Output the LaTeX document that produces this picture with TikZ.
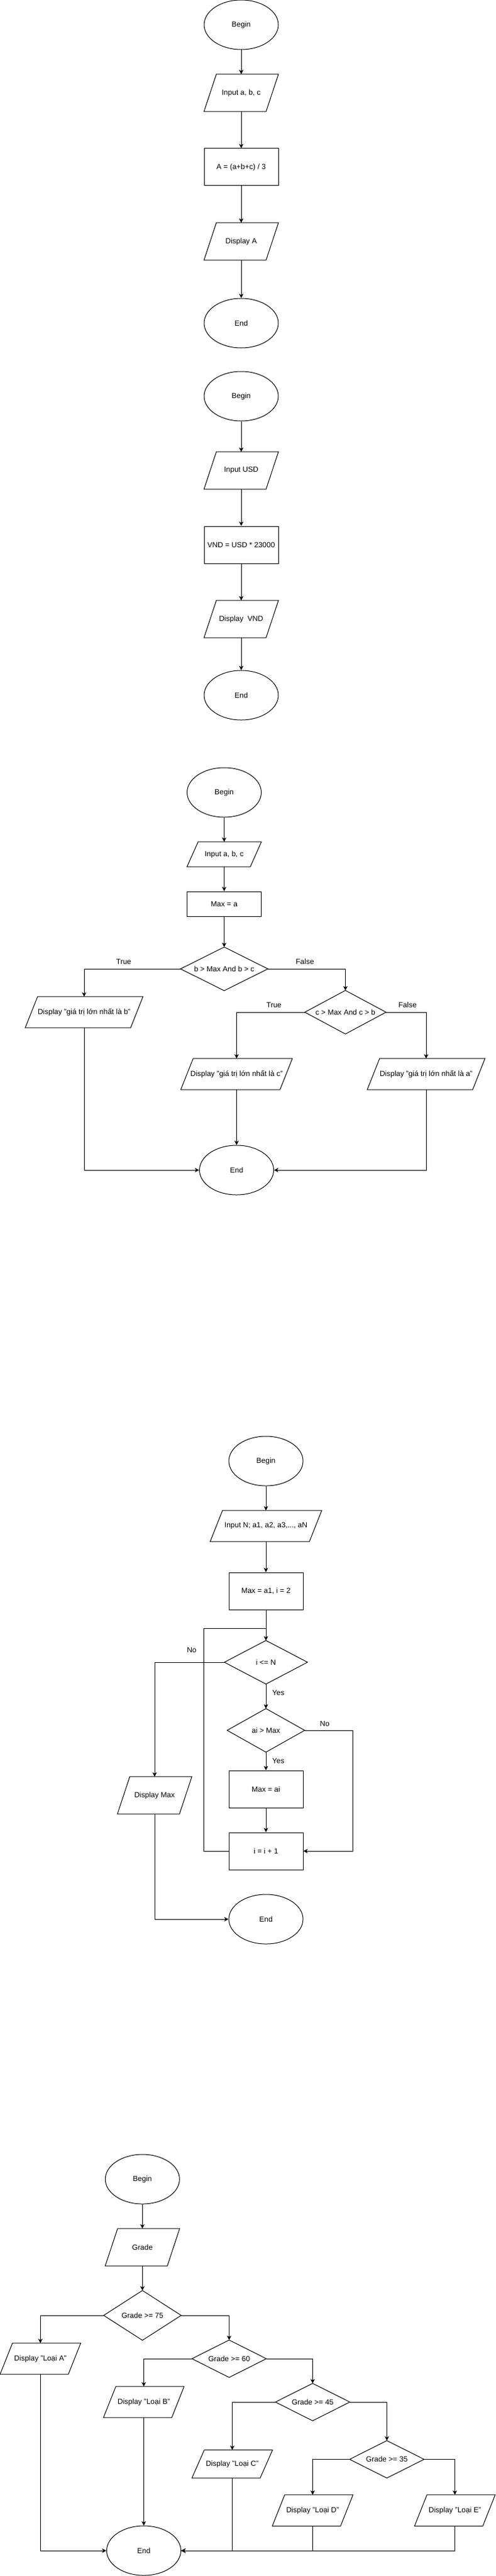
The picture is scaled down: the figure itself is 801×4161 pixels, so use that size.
\documentclass[tikz,border=0pt]{standalone}
\usepackage{fontspec}
\setmainfont{Liberation Sans}
\usetikzlibrary{arrows.meta,shapes.geometric}
\tikzset{
  base/.style={rectangle, inner sep=0pt, align=center, font=\fontsize{12}{14}\selectfont, text=black},
  term/.style={base, ellipse, draw, line width=1pt, minimum width=120pt, minimum height=80pt},
  proc/.style={base, draw, line width=1pt},
  con/.style={line width=1pt, line join=miter},
  arr/.style={line width=1pt, -{Stealth[length=7pt,width=7pt,inset=2pt]}},
  lbl/.style={font=\fontsize{12}{14}\selectfont, inner sep=0pt, text=black},
}
% name, x, y, width, height, skew, text
\newcommand\IOBox[7]{%
  \node[base, minimum width=#4pt, minimum height=#5pt] (#1) at (#2,#3) {#7};
  \draw[con] ([xshift=#6pt]#1.north west) -- (#1.north east) -- ([xshift=-#6pt]#1.south east) -- (#1.south west) -- cycle;}
% name, x, y, width, height, text
\newcommand\DecBox[6]{%
  \node[base, minimum width=#4pt, minimum height=#5pt] (#1) at (#2,#3) {#6};
  \draw[con] (#1.north) -- (#1.east) -- (#1.south) -- (#1.west) -- cycle;}
\begin{document}
\begin{tikzpicture}[x=1pt,y=-1pt]
\path[use as bounding box, fill=white] (0,0) rectangle (801,4161);

% ---------- Chart 1 ----------
\node[term] (b1) at (390,40) {Begin};
\IOBox{i1}{390}{150}{120}{60}{20}{Input a, b, c}
\node[proc, minimum width=120pt, minimum height=60pt] (p1) at (390,270) {A = (a+b+c) / 3};
\IOBox{o1}{390}{390}{120}{60}{20}{Display A}
\node[term] (e1) at (390,522) {End};
\draw[arr] (b1) -- (i1);
\draw[arr] (i1) -- (p1);
\draw[arr] (p1) -- (o1);
\draw[arr] (o1) -- (e1);

% ---------- Chart 2 ----------
\node[term] (b2) at (390,640) {Begin};
\IOBox{i2}{390}{760}{120}{60}{20}{Input USD}
\node[proc, minimum width=120pt, minimum height=60pt] (p2) at (390,880) {VND = USD * 23000};
\IOBox{o2}{390}{1000}{120}{60}{20}{Display\ \ VND}
\node[term] (e2) at (390,1123) {End};
\draw[arr] (b2) -- (i2);
\draw[arr] (i2) -- (p2);
\draw[arr] (p2) -- (o2);
\draw[arr] (o2) -- (e2);

% ---------- Chart 3 ----------
\node[term] (b3) at (362.5,1280) {Begin};
\IOBox{i3}{362.5}{1380}{120}{40}{18}{Input a, b, c}
\node[proc, minimum width=120pt, minimum height=40pt] (p3) at (362.5,1460) {Max = a};
\DecBox{c31}{362.5}{1565}{141}{70}{b > Max And b > c}
\IOBox{o3b}{136}{1635}{190}{50}{20}{Display "giá trị lớn nhất là b"}
\DecBox{c32}{558.5}{1635}{131}{70}{c > Max And c > b}
\IOBox{o3c}{382.5}{1735}{180}{50}{20}{Display "giá trị lớn nhất là c"}
\IOBox{o3a}{689}{1735}{190}{50}{20}{Display "giá trị lớn nhất là a"}
\node[term] (e3) at (382.5,1890) {End};
\node[lbl] (t31) at (200,1553) {True};
\node[lbl] (f31) at (493,1553) {False};
\node[lbl] (t32) at (443,1623) {True};
\node[lbl] (f32) at (659,1623) {False};
\draw[arr] (b3) -- (i3);
\draw[arr] (i3) -- (p3);
\draw[arr] (p3) -- (c31);
\draw[arr] (c31.west) -| (o3b.north);
\draw[arr] (c31.east) -| (c32.north);
\draw[arr] (c32.west) -| (o3c.north);
\draw[arr] (c32.east) -| (o3a.north);
\draw[arr] (o3c) -- (e3);
\draw[arr] (o3b.south) |- (e3.west);
\draw[arr] (o3a.south) |- (e3.east);

% ---------- Chart 4 ----------
\node[term] (b4) at (430,2360) {Begin};
\IOBox{i4}{430}{2465}{180}{50}{20}{Input N; a1, a2, a3,..., aN}
\node[proc, minimum width=120pt, minimum height=60pt] (p4) at (430,2570) {Max = a1, i = 2};
\DecBox{c41}{430}{2685}{134}{70}{i <= N}
\DecBox{c42}{430}{2795}{125}{70}{ai > Max}
\node[proc, minimum width=120pt, minimum height=60pt] (p42) at (430,2890) {Max = ai};
\node[proc, minimum width=120pt, minimum height=60pt] (p43) at (430,2990) {i = i + 1};
\IOBox{o4}{250}{2900}{120}{60}{20}{Display Max}
\node[term] (e4) at (430,3100) {End};
\coordinate (j4) at (430,2630);
\node[lbl] (n41) at (310,2665) {No};
\node[lbl] (y41) at (450,2734) {Yes};
\node[lbl] (n42) at (525,2784) {No};
\node[lbl] (y42) at (450,2844) {Yes};
\draw[arr] (b4) -- (i4);
\draw[arr] (i4) -- (p4);
\draw[arr] (p4) -- (c41);
\draw[arr] (c41) -- (c42);
\draw[arr] (c42) -- (p42);
\draw[arr] (p42) -- (p43);
\draw[arr] (c42.east) -- ++(77.5,0) |- (p43.east);
\draw[con] (p43.west) -- ++(-40,0) |- (j4);
\draw[arr] (c41.west) -| (o4.north);
\draw[arr] (o4.south) |- (e4.west);

% ---------- Chart 5 ----------
\node[term] (b5) at (230.3,3520) {Begin};
\IOBox{i5}{230.3}{3630}{120}{60}{20}{Grade}
\DecBox{c51}{230.3}{3740}{125}{80}{Grade >= 75}
\IOBox{o5a}{65.3}{3810}{130}{50}{20}{Display "Loại A"}
\DecBox{c52}{370.5}{3810}{120}{60}{Grade >= 60}
\IOBox{o5b}{232.5}{3880}{130}{50}{20}{Display "Loại B"}
\DecBox{c53}{505.5}{3880}{120}{60}{Grade >= 45}
\IOBox{o5c}{375.5}{3980}{130}{45}{20}{Display "Loại C"}
\DecBox{c54}{625.5}{3972.5}{120}{60}{Grade >= 35}
\IOBox{o5d}{505.5}{4055}{130}{50}{20}{Display "Loại D"}
\IOBox{o5e}{735.5}{4055}{130}{50}{20}{Display "Loại E"}
\node[term] (e5) at (232.5,4120) {End};
\draw[arr] (b5) -- (i5);
\draw[arr] (i5) -- (c51);
\draw[arr] (c51.west) -| (o5a.north);
\draw[arr] (c51.east) -| (c52.north);
\draw[arr] (c52.west) -| (o5b.north);
\draw[arr] (c52.east) -| (c53.north);
\draw[arr] (c53.west) -| (o5c.north);
\draw[arr] (c53.east) -| (c54.north);
\draw[arr] (c54.west) -| (o5d.north);
\draw[arr] (c54.east) -| (o5e.north);
\draw[arr] (o5a.south) |- (e5.west);
\draw[arr] (o5b) -- (e5);
\draw[arr] (o5c.south) |- (e5.east);
\draw[arr] (o5d.south) |- (e5.east);
\draw[arr] (o5e.south) |- (e5.east);
\end{tikzpicture}
\end{document}
